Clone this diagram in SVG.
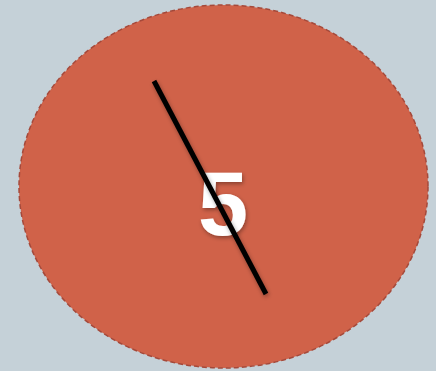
<svg xmlns="http://www.w3.org/2000/svg" width="436" height="371" viewBox="0 0 436 371">
<style>
.node-shape{fill:#D06249;stroke:#A5493A;stroke-width:1.5;stroke-dasharray:5 3}
.label{font-family:"Liberation Sans",Arial,sans-serif;font-weight:bold;font-size:90px;fill:#ffffff;text-anchor:middle}
.conn{stroke:#000;stroke-width:5;fill:none}
</style>
<defs>
<filter id="sh" x="-20%" y="-20%" width="140%" height="140%">
<feDropShadow dx="1" dy="2" stdDeviation="2" flood-color="#000" flood-opacity="0.35"/>
</filter>
</defs>
<rect width="436" height="371" fill="#C5D1D8"/>
<g id="node-5">
<ellipse class="node-shape" cx="223.5" cy="186.5" rx="204.5" ry="181.5"/>
<text class="label" x="223" y="235" filter="url(#sh)">5</text>
</g>
<g id="connectors">
<line class="conn" x1="154" y1="81" x2="266" y2="294" filter="url(#sh)"/>
</g>
</svg>
